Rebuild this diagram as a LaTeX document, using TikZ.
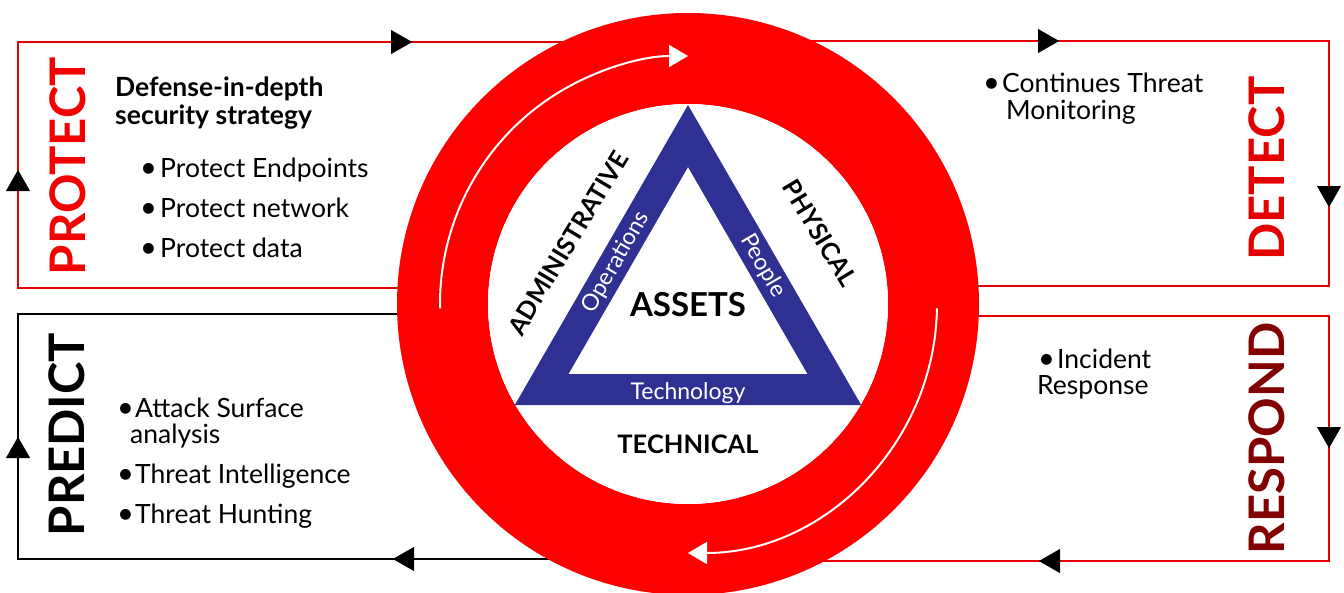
\documentclass[tikz,border=0pt]{standalone}
\usepackage{fontspec}
\setmainfont{Lato}
\usetikzlibrary{arrows.meta}
\definecolor{ringred}{RGB}{255,0,0}
\definecolor{linered}{RGB}{232,0,0}
\definecolor{protred}{RGB}{245,0,0}
\definecolor{detred}{RGB}{228,0,0}
\definecolor{resred}{RGB}{130,0,0}
\definecolor{triblue}{RGB}{46,49,146}
\newcommand{\blt}[1]{\makebox[#1][l]{{\fontsize{29}{29}\selectfont\raisebox{-0.5pt}{\textbullet}}}}
\begin{document}
\begin{tikzpicture}[x=1pt,y=-1pt,
  boxline/.style={line width=2pt},
  tipmark/.style={-{Triangle[length=21pt,width=24pt]}, black, line width=0.1pt},
  flow/.style={white, line width=2pt, -{Triangle[length=19pt,width=22pt]}},
  bigword/.style={font=\fontsize{49}{49}\selectfont\bfseries, inner sep=0pt, rotate=90},
  item/.style={font=\fontsize{26.5}{30}\selectfont, inner sep=0pt, anchor=base west},
  head/.style={font=\fontsize{26.5}{30}\selectfont\bfseries, inner sep=0pt, anchor=base west},
  layer/.style={font=\fontsize{25}{25}\selectfont\bfseries, inner sep=0pt},
  band/.style={font=\fontsize{23}{23}\selectfont, text=white, inner sep=0pt}
]
\useasboundingbox (0,0) rectangle (1344,592);
\coordinate (C) at (688,304);
\coordinate (T) at (688,305);
% box corners
\coordinate (p1) at (440,288); \coordinate (p2) at (18,288);
\coordinate (p3) at (18,42);   \coordinate (p4) at (688,42);
\coordinate (d1) at (688,41);  \coordinate (d2) at (1329,41);
\coordinate (d3) at (1329,286); \coordinate (d4) at (936,286);
\coordinate (r1) at (936,316); \coordinate (r2) at (1329,316);
\coordinate (r3) at (1329,561); \coordinate (r4) at (688,561);
\coordinate (q1) at (688,559); \coordinate (q2) at (18,559);
\coordinate (q3) at (18,314);  \coordinate (q4) at (440,314);
\draw[boxline, linered] (p1) -- (p2) -- (p3) -- (p4);
\draw[boxline, linered] (d1) -- (d2) -- (d3) -- (d4);
\draw[boxline, linered] (r1) -- (r2) -- (r3) -- (r4);
\draw[boxline, black] (q1) -- (q2) -- (q3) -- (q4);
% arrow tips
\coordinate (a1) at (412,42);  \coordinate (a2) at (18,170);
\coordinate (a3) at (1059,41); \coordinate (a4) at (1329,207);
\coordinate (a5) at (1329,448); \coordinate (a6) at (1039,561);
\coordinate (a7) at (393,559); \coordinate (a8) at (18,437);
\draw[tipmark] ([xshift=-1pt]a1) -- (a1);
\draw[tipmark] ([yshift=-1pt]a2) -- (a2);
\draw[tipmark] ([xshift=-1pt]a3) -- (a3);
\draw[tipmark] ([yshift=1pt]a4) -- (a4);
\draw[tipmark] ([yshift=1pt]a5) -- (a5);
\draw[tipmark] ([xshift=1pt]a6) -- (a6);
\draw[tipmark] ([xshift=1pt]a7) -- (a7);
\draw[tipmark] ([yshift=-1pt]a8) -- (a8);
% ring
\fill[ringred, even odd rule] (C) circle[radius=291pt] (C) circle[radius=200pt];
\fill[white] (C) circle[radius=200pt];
% triangle
\fill[triblue, even odd rule]
  ([shift={(90:200pt)}]T) -- ([shift={(210:200pt)}]T) -- ([shift={(330:200pt)}]T) -- cycle
  ([shift={(90:138pt)}]T) -- ([shift={(210:138pt)}]T) -- ([shift={(330:138pt)}]T) -- cycle;
% flow arrows in ring
\draw[flow] ([shift={(181:248pt)}]C) arc[start angle=181, end angle=90, radius=248pt];
\draw[flow] ([shift={(-1:249pt)}]C) arc[start angle=-1, end angle=-90, radius=249pt];
% triangle texts
\node[font=\fontsize{33}{33}\selectfont\bfseries, inner sep=0pt] (assets) at (688,305) {ASSETS};
\node[font=\fontsize{25.5}{25.5}\selectfont\bfseries, inner sep=0pt] (technical) at (688,444.5) {TECHNICAL};
\node[layer, rotate=59] (admin) at (568,243) {ADMINISTRATIVE};
\node[layer, rotate=-59] (physical) at (820,233) {PHYSICAL};
\node[band, rotate=60] (ops) at (616,262) {Operations};
\node[band, rotate=-60] (people) at (763,266) {People};
\node[band, anchor=base] (tech) at (688,399) {Technology};
% side words
\node[bigword, text=protred] (protect) at (67.5,166) {PROTECT};
\node[bigword, text=black] (predict) at (67,434.5) {PREDICT};
\node[bigword, text=detred] (detect) at (1267,168.5) {DETECT};
\node[bigword, text=resred] (respond) at (1267,438.5) {RESPOND};
% protect texts
\node[head] (dd1) at (115,96) {Defense-in-depth};
\node[head] (dd2) at (115,124) {security strategy};
\node[item] (pe) at (140,177) {\blt{20pt}Protect Endpoints};
\node[item] (pn) at (140,217) {\blt{20pt}Protect network};
\node[item] (pd) at (140,257) {\blt{20pt}Protect data};
% predict texts
\node[item] (as1) at (117,417) {\blt{18pt}Attack Surface};
\node[item] (as2) at (130,443) {analysis};
\node[item] (ti) at (117,483) {\blt{18pt}Threat Intelligence};
\node[item] (th) at (117,523) {\blt{18pt}Threat Hunting};
% detect texts
\node[item] (ct1) at (983,92) {\blt{19pt}Continues Threat};
\node[item] (ct2) at (1006,119) {Monitoring};
% respond texts
\node[item] (ir1) at (1038,368) {\blt{19pt}Incident};
\node[item] (ir2) at (1037,394) {Response};
\end{tikzpicture}
\end{document}
